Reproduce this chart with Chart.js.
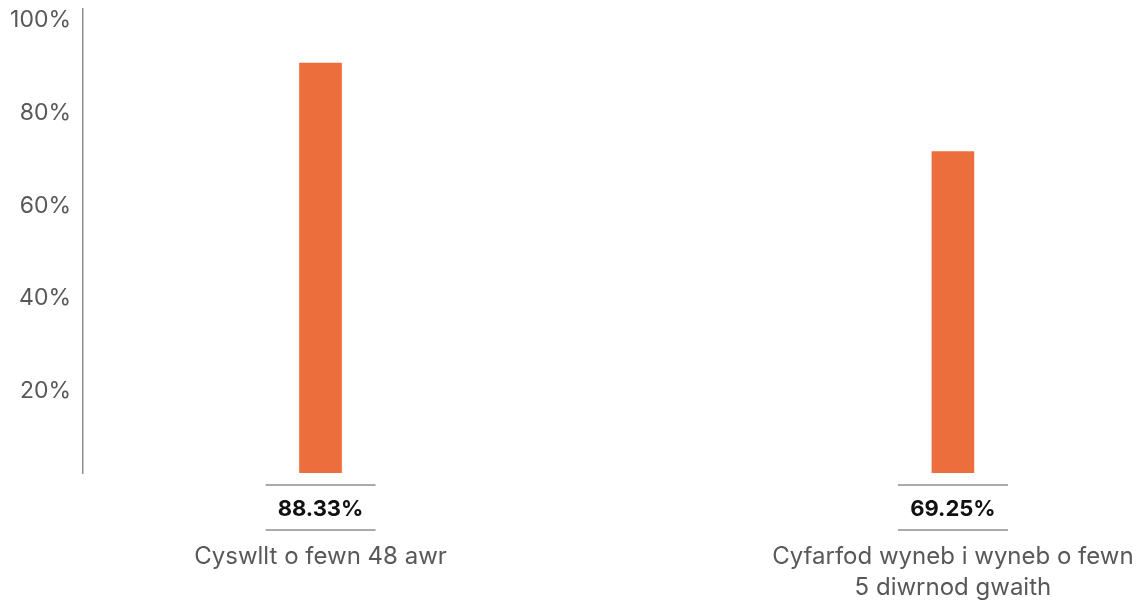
<!DOCTYPE html>
<html>
<head>
<meta charset="utf-8">
<script src="https://cdn.jsdelivr.net/npm/chart.js@4"></script>
<style>
  html, body { margin: 0; padding: 0; background: #fff; }
  #wrap { width: 1142px; height: 603px; position: relative; }
</style>
</head>
<body>
<div id="wrap"><canvas id="c"></canvas></div>
<script>
// Two-bar chart: share of referrals meeting contact targets.
var CATEGORIES = ['Cyswllt o fewn 48 awr', ['Cyfarfod wyneb i wyneb o fewn', '5 diwrnod gwaith']];
var VALUES = [88.33, 69.25];
var VALUE_LABELS = ['88.33%', '69.25%'];
var Y_TICKS = [20, 40, 60, 80, 100];

var FONT = 'Inter, "Open Sans", sans-serif';
var BAR = '#ed6e3d';
var GREY = '#585858';
var RULE = '#8e8e8e';

// value boxes between the bar foot and the category label
var valueBoxes = {
  id: 'valueBoxes',
  afterDraw: function(chart) {
    var ctx = chart.ctx, x = chart.scales.x, area = chart.chartArea;
    ctx.save();
    VALUES.forEach(function(v, i) {
      var cx = x.getPixelForValue(i);
      ctx.strokeStyle = RULE;
      ctx.lineWidth = 1.5;
      ctx.beginPath();
      ctx.moveTo(cx - 55, area.bottom + 12); ctx.lineTo(cx + 55, area.bottom + 12);
      ctx.moveTo(cx - 55, area.bottom + 57); ctx.lineTo(cx + 55, area.bottom + 57);
      ctx.stroke();
      ctx.fillStyle = '#111';
      ctx.font = 'bold 22px ' + FONT;
      ctx.textAlign = 'center';
      ctx.textBaseline = 'middle';
      ctx.fillText(VALUE_LABELS[i], cx, area.bottom + 36);
    });
    ctx.restore();
  }
};

new Chart(document.getElementById('c'), {
  type: 'bar',
  data: {
    datasets: [{
      data: VALUES.map(function(v, i) { return { x: i, y: v }; }),
      backgroundColor: BAR,
      barThickness: 42
    }]
  },
  plugins: [valueBoxes],
  options: {
    responsive: true,
    maintainAspectRatio: false,
    animation: false,
    layout: { padding: { top: 9, right: 0, left: 0, bottom: 0 } },
    plugins: { legend: { display: false }, tooltip: { enabled: false } },
    scales: {
      x: {
        type: 'linear',
        offset: false,
        min: -0.3756,
        max: 1.299,
        grid: { display: false },
        border: { display: false },
        afterBuildTicks: function(s) { s.ticks = CATEGORIES.map(function(c, i) { return { value: i }; }); },
        afterFit: function(s) { s.height = 130; s.paddingLeft = 0; s.paddingRight = 0; },
        ticks: {
          padding: 60,
          maxRotation: 0,
          autoSkip: false,
          color: GREY,
          font: { family: FONT, size: 24, lineHeight: 1.3 },
          callback: function(v) { return CATEGORIES[v]; }
        }
      },
      y: {
        min: 0,
        max: 100,
        grid: { display: false, drawTicks: false },
        border: { display: true, color: RULE, width: 1.5 },
        afterBuildTicks: function(s) { s.ticks = Y_TICKS.map(function(t) { return { value: t }; }); },
        afterFit: function(s) { s.width = 83; s.paddingTop = 0; s.paddingBottom = 0; },
        ticks: {
          padding: 12,
          labelOffset: 11,
          color: GREY,
          font: { family: FONT, size: 23 },
          callback: function(v) { return v + '%'; }
        }
      }
    }
  }
});
</script>
</body>
</html>
